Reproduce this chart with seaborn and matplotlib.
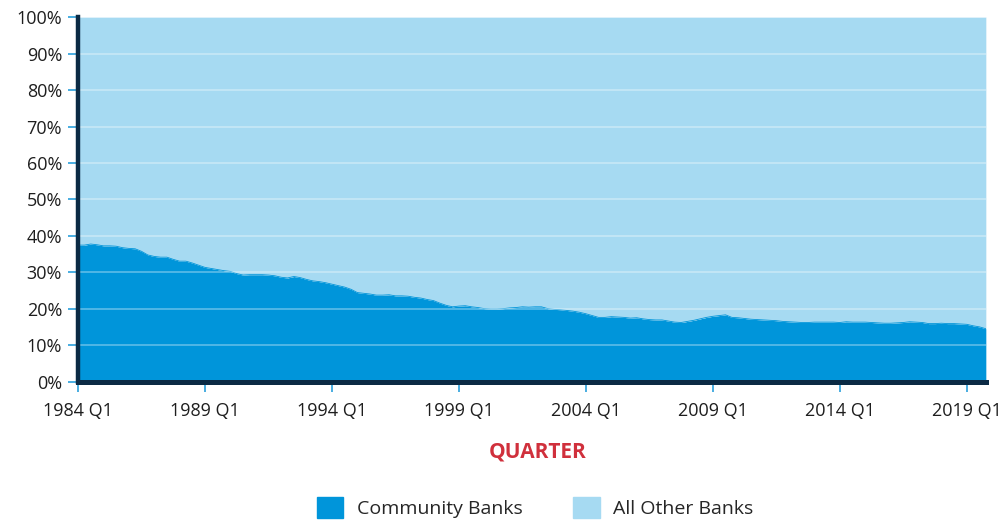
import numpy as np
import pandas as pd
import matplotlib
matplotlib.use("Agg")
import matplotlib.pyplot as plt
from matplotlib.patches import Patch
import seaborn as sns

# Share of total assets by quarter, 1984 Q1 - 2019 Q4
community = [
    37.5, 37.5, 37.8, 37.6, 37.3, 37.3, 37.2, 36.8, 36.6, 36.5,
    35.8, 34.8, 34.4, 34.2, 34.2, 33.6, 33.1, 33.1, 32.6, 32.0,
    31.4, 31.1, 30.8, 30.5, 30.3, 29.7, 29.3, 29.4, 29.4, 29.4,
    29.3, 29.1, 28.7, 28.5, 28.9, 28.6, 28.1, 27.7, 27.5, 27.2,
    26.8, 26.4, 26.0, 25.4, 24.5, 24.3, 24.1, 23.8, 23.8, 23.9,
    23.6, 23.6, 23.5, 23.2, 23.0, 22.6, 22.3, 21.6, 21.0, 20.6,
    20.8, 20.9, 20.6, 20.4, 20.1, 20.0, 20.0, 20.1, 20.3, 20.4,
    20.6, 20.5, 20.6, 20.6, 20.1, 19.9, 19.8, 19.6, 19.4, 19.1,
    18.7, 18.2, 17.7, 17.7, 17.9, 17.8, 17.7, 17.5, 17.6, 17.3,
    17.1, 17.0, 17.0, 16.7, 16.4, 16.3, 16.6, 16.9, 17.3, 17.7,
    18.0, 18.2, 18.4, 17.7, 17.6, 17.4, 17.2, 17.1, 17.0, 16.9,
    16.8, 16.6, 16.5, 16.4, 16.3, 16.3, 16.4, 16.4, 16.4, 16.4,
    16.3, 16.5, 16.4, 16.4, 16.4, 16.3, 16.2, 16.1, 16.1, 16.2,
    16.3, 16.5, 16.4, 16.3, 16.0, 16.0, 16.1, 16.0, 16.0, 15.9,
    15.8, 15.4, 15.1, 14.6,
]
quarters = [f"{y} Q{q}" for y in range(1984, 2020) for q in range(1, 5)]
tick_years = [1984, 1989, 1994, 1999, 2004, 2009, 2014, 2019]
y_ticks = [0, 10, 20, 30, 40, 50, 60, 70, 80, 90, 100]

df = pd.DataFrame({"quarter": quarters, "community": community})
df["idx"] = np.arange(len(df))
df["other"] = 100 - df["community"]

c_comm = "#0095DA"
c_other = "#A6DAF2"
navy = "#0B2A44"
tick_blue = "#2A9FDC"

sns.set_theme(style="white")
plt.rcParams["font.family"] = ["Open Sans", "DejaVu Sans"]

fig = plt.figure(figsize=(10.08, 5.2), dpi=100)
ax = fig.add_axes([0.0774, 0.2654, 0.9006, 0.7019])

ax.stackplot(df["idx"], df["community"], df["other"],
             colors=[c_comm, c_other], linewidth=0)
sns.lineplot(data=df, x="idx", y="community", ax=ax, color=c_comm, linewidth=0.6)

for v in y_ticks[1:]:
    ax.axhline(v, color="white", alpha=0.4, lw=1.1, zorder=3)

ax.set_xlim(0, len(df) - 1)
ax.set_ylim(0, 100)
ax.set_yticks(y_ticks)
ax.set_yticklabels([f"{v}%" for v in y_ticks])
xt = [quarters.index(f"{y} Q1") for y in tick_years]
ax.set_xticks(xt)
ax.set_xticklabels([f"{y} Q1" for y in tick_years])
ax.set_xlabel("")
ax.set_ylabel("")

ax.tick_params(axis="both", which="both", colors=tick_blue, labelcolor="#1E1E1E",
               labelsize=13, length=7.5, width=1.2, direction="out")
ax.tick_params(axis="x", pad=7)
ax.tick_params(axis="y", pad=4)
ax.xaxis.set_ticks_position("bottom")
ax.yaxis.set_ticks_position("left")

for side in ["top", "right"]:
    ax.spines[side].set_visible(False)
ax.spines["left"].set_color(navy)
ax.spines["left"].set_linewidth(3.2)
ax.spines["bottom"].set_color(navy)
ax.spines["bottom"].set_linewidth(3.6)
ax.spines["left"].set_zorder(5)
ax.spines["bottom"].set_zorder(5)

fig.text(0.533, 0.131, "QUARTER", ha="center", va="center",
         fontsize=15, fontweight="bold", color="#D0303C")

handles = [Patch(color=c_comm, label="Community Banks"),
           Patch(color=c_other, label="All Other Banks")]
fig.legend(handles=handles, loc="center", bbox_to_anchor=(0.531, 0.024),
           ncol=2, frameon=False, fontsize=14, handlelength=1.35,
           handleheight=1.35, handletextpad=0.7, columnspacing=2.6)

fig.savefig("out.png", dpi=100)
